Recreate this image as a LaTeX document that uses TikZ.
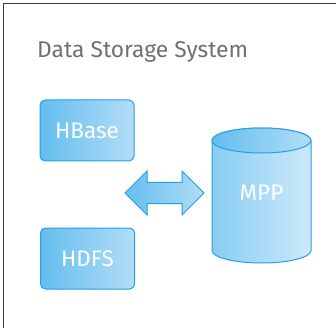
\documentclass[tikz,border=0pt]{standalone}
\usepackage{fontspec}
\setmainfont{Fira Sans}
\definecolor{boxleft}{RGB}{100,190,238}
\definecolor{boxright}{RGB}{178,221,246}
\definecolor{boxline}{RGB}{35,160,230}
\definecolor{cylleft}{RGB}{135,205,242}
\definecolor{cylright}{RGB}{205,233,250}
\definecolor{titlegray}{RGB}{112,112,112}
\definecolor{framegray}{RGB}{60,60,60}
\tikzset{
  storebox/.style={draw=boxline, line width=1pt, rounded corners=5pt,
    left color=boxleft, right color=boxright, text=white,
    font=\fontsize{22.5}{22}\selectfont, minimum width=94pt, minimum height=61pt},
  storelabel/.style={text=white, font=\fontsize{22.5}{22}\selectfont}
}
\begin{document}
\begin{tikzpicture}[x=1pt, y=-1pt]
				\useasboundingbox (0,0) rectangle (336,328);
				\clip (0,0) rectangle (336,328);
				% Frame
				\draw[framegray, line width=1.5pt] (3.5,3.5) rectangle (345,340);
				\node[anchor=base west, text=titlegray, font=\fontsize{22.8}{22}\selectfont, inner sep=0pt] (title) at (37,57.5) {Data Storage System};

				% Hadoop side
				\node[storebox] (hbase) at (87,130.5) {HBase};
				\node[storebox] (hdfs) at (87.5,258.5) {HDFS};

				% Exchange arrow
				\draw[boxline, line width=1pt, left color=boxleft, right color=boxright]
					(125,193) -- (147,171) -- (147,182.5) -- (182,182.5) -- (182,171)
					-- (204,193) -- (182,215) -- (182,203.5) -- (147,203.5) -- (147,215) -- cycle;

				% MPP cylinder
				\draw[boxline, line width=1pt, left color=cylleft, right color=cylright]
					(212,140.5) -- (212,250.5) arc[start angle=180, end angle=360, x radius=49.5, y radius=-12.5]
					-- (311,140.5) arc[start angle=0, end angle=180, x radius=49.5, y radius=-12.5] -- cycle;
				\draw[boxline, line width=1pt, left color=boxleft, right color=boxright]
					(261.5,140.5) ellipse [x radius=49.5, y radius=12.5];
				\node[storelabel] (mpp) at (261.5,193) {MPP};
\end{tikzpicture}
\end{document}
